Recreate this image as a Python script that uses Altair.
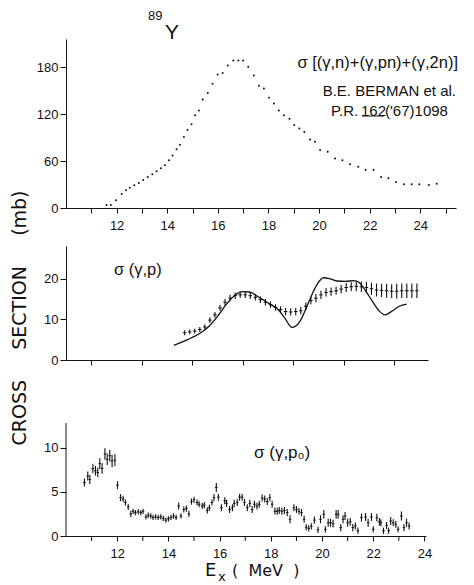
import altair as alt
import pandas as pd

FONT = "Liberation Sans"
WIDE = "DejaVu Sans"

# ---------------- top panel: sigma[(g,n)+(g,pn)+(g,2n)] (Berman et al.)
top_e = [11.6, 11.77, 11.97, 12.2, 12.37, 12.52, 12.7, 12.88, 13.05, 13.23,
         13.41, 13.58, 13.75, 13.91, 14.07, 14.21, 14.37, 14.5, 14.66, 14.8,
         14.96, 15.1, 15.25, 15.4, 15.6, 15.79, 15.99, 16.19, 16.39, 16.61,
         16.81, 17.0, 17.2, 17.42, 17.62, 17.82, 18.02, 18.22, 18.41, 18.61,
         18.83, 19.02, 19.22, 19.42, 19.64, 19.84, 20.04, 20.34, 20.63, 20.92,
         21.22, 21.55, 21.84, 22.15, 22.45, 22.74, 23.04, 23.36, 23.66, 23.96,
         24.34, 24.65]
top_v = [3.8, 3.8, 9.8, 18, 22.6, 26, 29, 32, 35.7, 39.6,
         43, 47, 50.7, 54.5, 61, 67, 75, 81, 90.6, 99.6,
         107, 118.7, 124.7, 138.8, 147, 158.7, 170.7, 172.7, 182, 188.5,
         188.5, 188.5, 180.4, 169.4, 156.3, 152.8, 140.8, 133.6, 124.7, 118.7,
         114, 106, 101.7, 97, 87.7, 84.6, 74, 71.9, 63.4, 60.9,
         55.8, 52.7, 48.5, 48.5, 39.6, 37.9, 33.2, 30.3, 30.3, 30.3,
         29.4, 31]

# ---------------- middle panel: sigma(g,p)
mid_line_e = [14.27, 14.81, 15.34, 15.67, 16.0, 16.34, 16.67, 17.0, 17.27, 17.6,
              18.0, 18.4, 18.67, 18.95, 19.27, 19.6, 19.94, 20.2, 20.47, 20.74,
              21.07, 21.4, 21.6, 21.8, 22.14, 22.4, 22.63, 22.94, 23.2, 23.5]
mid_line_v = [3.6, 5.0, 6.7, 8.3, 10.7, 13.6, 15.8, 16.8, 16.7, 15.6,
              14.0, 12.4, 10.3, 8.0, 9.5, 14.0, 18.5, 20.2, 19.9, 19.4,
              19.3, 19.5, 19.1, 17.6, 14.4, 12.1, 11.1, 12.1, 13.2, 13.7]
mid_pt_e = [14.7, 14.9, 15.1, 15.3, 15.5, 15.7, 15.9, 16.1, 16.3, 16.5,
            16.7, 16.9, 17.1, 17.3, 17.5, 17.7, 17.9, 18.1, 18.3, 18.5,
            18.7, 18.9, 19.1, 19.3, 19.5, 19.7, 19.9, 20.1, 20.3, 20.5,
            20.7, 20.9, 21.1, 21.3, 21.5, 21.7, 21.9, 22.1, 22.3, 22.5,
            22.7, 22.9, 23.1, 23.3, 23.5, 23.7, 23.9]
mid_pt_v = [6.7, 6.9, 7.1, 7.5, 8.1, 9.8, 11.1, 12.8, 14.2, 15.2,
            15.8, 16.0, 16.0, 15.8, 15.4, 14.8, 14.2, 13.6, 12.9, 12.4,
            11.9, 11.8, 11.9, 12.1, 13.2, 14.6, 15.2, 16.0, 16.6, 16.8,
            17.0, 17.4, 17.8, 18.0, 18.1, 18.0, 17.8, 17.5, 17.2, 17.1,
            17.0, 16.9, 16.9, 17.0, 17.0, 17.0, 17.0]
mid_pt_err = [0.6, 0.6, 0.6, 0.6, 0.6, 0.7, 0.7, 0.7, 0.8, 0.8,
              0.8, 0.8, 0.8, 0.8, 0.8, 0.8, 0.8, 0.8, 0.8, 0.8,
              0.9, 0.9, 0.9, 0.9, 0.9, 0.9, 1.0, 1.0, 1.0, 1.0,
              1.0, 1.0, 1.1, 1.1, 1.2, 1.3, 1.4, 1.5, 1.6, 1.6,
              1.7, 1.7, 1.8, 1.8, 1.8, 1.8, 1.8]

# ---------------- bottom panel: sigma(g,p0)
bot_e = [10.72, 10.85, 10.93, 11.05, 11.15, 11.24, 11.32, 11.41, 11.52, 11.61, 11.71, 11.80, 11.91,
         12.01, 12.13, 12.23, 12.32, 12.43, 12.53, 12.62, 12.71, 12.82, 12.92,
         13.01, 13.12, 13.21, 13.31, 13.40, 13.50, 13.60, 13.70, 13.80, 13.90,
         14.00, 14.10, 14.20, 14.30, 14.40, 14.49, 14.60, 14.70, 14.80, 14.90,
         15.00, 15.12, 15.20, 15.32, 15.40, 15.52, 15.60, 15.70, 15.78, 15.87, 15.95,
         16.07, 16.20, 16.27, 16.39, 16.50, 16.57, 16.69, 16.78, 16.88, 16.97,
         17.08, 17.18, 17.27, 17.36, 17.46, 17.55, 17.66, 17.76, 17.86, 17.96,
         18.05, 18.16, 18.25, 18.33, 18.43, 18.53, 18.64, 18.75, 18.90,
         19.00, 19.10, 19.20, 19.30, 19.38, 19.48, 19.58, 19.70, 19.84, 19.94,
         20.07, 20.13, 20.24, 20.33, 20.43, 20.55, 20.63, 20.73, 20.82, 20.90,
         21.00, 21.10, 21.20, 21.30, 21.40, 21.54, 21.70, 21.80, 21.93,
         22.00, 22.14, 22.24, 22.30, 22.40, 22.52, 22.60, 22.68, 22.78, 22.88, 22.97,
         23.10, 23.20, 23.30, 23.40]
bot_v = [6.06, 6.8, 6.4, 7.65, 7.4, 7.2, 8.2, 7.65, 9.3, 8.7, 9.1, 8.5, 8.6,
         5.76, 4.35, 4.2, 3.8, 3.3, 2.5, 2.8, 2.65, 2.75, 2.65,
         2.8, 2.16, 2.35, 2.27, 2.1, 2.16, 2.1, 2.16, 2.0, 1.8,
         1.95, 2.1, 2.27, 2.1, 3.4, 2.27, 3.0, 3.1, 2.5, 3.9,
         4.1, 3.8, 3.6, 3.4, 3.5, 2.9, 3.2, 3.8, 4.35, 5.5, 4.4,
         3.2, 4.0, 3.7, 3.0, 3.2, 3.7, 3.8, 4.4, 4.4, 3.8,
         3.2, 3.7, 3.0, 3.6, 3.4, 3.6, 4.3, 4.2, 3.9, 4.35,
         3.6, 2.8, 2.8, 2.9, 2.8, 2.9, 2.65, 1.9, 3.2,
         3.0, 2.8, 2.65, 1.9, 1.0, 0.87, 1.1, 1.8, 0.7, 1.9,
         2.46, 0.76, 1.5, 1.5, 1.4, 2.46, 2.46, 0.95, 1.9, 2.27,
         1.5, 1.6, 0.95, 1.14, 0.6, 2.08, 2.15, 1.5, 2.15,
         0.76, 2.08, 1.6, 1.5, 0.6, 1.2, 0.6, 1.7, 1.5, 1.33, 0.76,
         2.27, 0.95, 1.5, 1.14]
bot_err = [0.45, 0.5, 0.5, 0.55, 0.55, 0.55, 0.6, 0.6, 0.65, 0.65, 0.65, 0.7, 0.7,
           0.45, 0.4, 0.35, 0.35, 0.35, 0.35, 0.3, 0.3, 0.3, 0.3,
           0.3, 0.3, 0.3, 0.3, 0.3, 0.3, 0.3, 0.3, 0.3, 0.3,
           0.3, 0.3, 0.3, 0.3, 0.4, 0.3, 0.35, 0.35, 0.35, 0.35,
           0.35, 0.35, 0.35, 0.35, 0.35, 0.35, 0.35, 0.35, 0.4, 0.5, 0.4,
           0.4, 0.4, 0.4, 0.4, 0.4, 0.4, 0.4, 0.4, 0.4, 0.4,
           0.4, 0.4, 0.4, 0.4, 0.4, 0.4, 0.4, 0.4, 0.4, 0.4,
           0.4, 0.4, 0.4, 0.4, 0.4, 0.4, 0.4, 0.45, 0.4,
           0.4, 0.4, 0.4, 0.4, 0.35, 0.35, 0.35, 0.4, 0.35, 0.45,
           0.5, 0.35, 0.45, 0.45, 0.45, 0.5, 0.5, 0.4, 0.45, 0.45,
           0.45, 0.45, 0.4, 0.4, 0.35, 0.45, 0.45, 0.45, 0.45,
           0.35, 0.45, 0.45, 0.4, 0.35, 0.4, 0.35, 0.45, 0.4, 0.4, 0.35,
           0.5, 0.4, 0.45, 0.4]

top_y_ticks = [0, 60, 120, 180]
mid_y_ticks = [0, 10, 20]
bot_y_ticks = [0, 5, 10]
top_x_ticks = list(range(11, 26))
mid_x_ticks = list(range(11, 25))
bot_x_major = [12, 14, 16, 18, 20, 22, 24]
bot_x_minor = [11, 13, 15, 17, 19, 21, 23]
bot_y_top = 12.8   # top of the drawn y axis in the bottom panel

BLACK = "#111111"
LABEL_EXPR = "(datum.value % 2 == 0 && datum.value >= 12) ? datum.label : ''"


def xaxis(values):
    return alt.Axis(values=values, labelExpr=LABEL_EXPR, tickSize=5,
                    labelPadding=6, grid=False, labelFlush=False,
                    labelOverlap=False)


def yaxis(values, domain=True):
    return alt.Axis(values=values, tickSize=6, labelPadding=2, grid=False,
                    domain=domain, labelOverlap=False)


def txt(text, x, y, size=15, align="left", baseline="middle", angle=0,
        font=FONT):
    base = alt.Chart(pd.DataFrame({"t": [text]})).mark_text(
        align=align, baseline=baseline, fontSize=size, font=font,
        color=BLACK, angle=angle)
    return base.encode(x=alt.value(x), y=alt.value(y), text="t:N")


# ---------- top
top_df = pd.DataFrame({"e": top_e, "v": top_v})
top_x = alt.Scale(domain=[10, 25.41], nice=False, zero=False)
top_pts = alt.Chart(top_df).mark_circle(size=4, color=BLACK, opacity=1).encode(
    x=alt.X("e:Q", scale=top_x, axis=xaxis(top_x_ticks), title=None),
    y=alt.Y("v:Q", scale=alt.Scale(domain=[0, 216], nice=False),
            axis=yaxis(top_y_ticks), title=None),
)
anchor = alt.Chart(pd.DataFrame({"a": [0]})).mark_rule(
    color="white", strokeWidth=1).encode(
    x=alt.value(-65), x2=alt.value(-64), y=alt.value(-38))
underline = alt.Chart(pd.DataFrame({"a": [0]})).mark_rule(
    color=BLACK, strokeWidth=1).encode(
    x=alt.value(296), x2=alt.value(318), y=alt.value(77))
top = alt.layer(
    top_pts, anchor,
    txt("89", 82, -23, size=13),
    txt("Y", 99, 0, size=21, baseline="alphabetic"),
    txt("σ [(γ,n)+(γ,pn)+(γ,2n)]", 392, 24, size=16.5, align="right"),
    txt("B.E. BERMAN et al.", 390, 52, size=15, align="right"),
    txt("P.R.", 265, 72, size=15),
    txt("162", 295, 72, size=15),
    txt("('67)1098", 319, 72, size=15),
    underline,
).properties(width=390, height=169)

# ---------- middle
mid_x = alt.Scale(domain=[10, 24.34], nice=False, zero=False)
mid_y = alt.Scale(domain=[0, 28], nice=False)
mid_pts = pd.DataFrame({"e": mid_pt_e, "v": mid_pt_v, "err": mid_pt_err})
mid_pts["lo"] = mid_pts["v"] - mid_pts["err"]
mid_pts["hi"] = mid_pts["v"] + mid_pts["err"]
mid_pts["el"] = mid_pts["e"] - 0.07
mid_pts["er"] = mid_pts["e"] + 0.07
mid_vbars = alt.Chart(mid_pts).mark_rule(color=BLACK, strokeWidth=1.1).encode(
    x=alt.X("e:Q", scale=mid_x, axis=xaxis(mid_x_ticks), title=None),
    y=alt.Y("lo:Q", scale=mid_y, axis=yaxis(mid_y_ticks), title=None),
    y2="hi:Q",
)
mid_hbars = alt.Chart(mid_pts).mark_rule(color=BLACK, strokeWidth=1).encode(
    x="el:Q", x2="er:Q", y="v:Q")
mid_line = alt.Chart(pd.DataFrame({"e": mid_line_e, "v": mid_line_v})).mark_line(
    color=BLACK, strokeWidth=1.3, interpolate="monotone").encode(x="e:Q", y="v:Q")
ytitle = ("CROSS\u00a0\u00a0\u00a0\u00a0\u00a0SECTION"
          "\u00a0\u00a0\u00a0\u00a0\u00a0(mb)")
mid = alt.layer(
    mid_vbars, mid_hbars, mid_line,
    txt("σ (γ,p)", 48, 24, size=16.5),
    txt(ytitle, -46, 72, size=19, align="center", angle=270, font=WIDE),
).properties(width=362, height=114)

# ---------- bottom (taller group; y axis line drawn only up to bot_y_top)
bot_x = alt.Scale(domain=[10, 24.06], nice=False, zero=False)
bot_y = alt.Scale(domain=[0, 15.64], nice=False)
bot_df = pd.DataFrame({"e": bot_e, "v": bot_v, "err": bot_err})
bot_df["lo"] = bot_df["v"] - bot_df["err"]
bot_df["hi"] = bot_df["v"] + bot_df["err"]
bot_df["el"] = bot_df["e"] - 0.05
bot_df["er"] = bot_df["e"] + 0.05
bot_vbars = alt.Chart(bot_df).mark_rule(color=BLACK, strokeWidth=1.1).encode(
    x=alt.X("e:Q", scale=bot_x,
            axis=alt.Axis(values=bot_x_major, tickSize=5, labelPadding=6,
                          grid=False, labelFlush=False, labelOverlap=False,
                          format="d"),
            title=None),
    y=alt.Y("lo:Q", scale=bot_y, axis=yaxis(bot_y_ticks, domain=False),
            title=None),
    y2="hi:Q",
)
bot_hbars = alt.Chart(bot_df).mark_rule(color=BLACK, strokeWidth=1).encode(
    x="el:Q", x2="er:Q", y="v:Q")
bot_axisline = alt.Chart(pd.DataFrame({"x0": [10], "y0": [0], "y1": [bot_y_top]})
                         ).mark_rule(color=BLACK, strokeWidth=1).encode(
    x="x0:Q", y="y0:Q", y2="y1:Q")
bot_minor = alt.Chart(pd.DataFrame({"m": bot_x_minor})).mark_rule(
    color=BLACK, strokeWidth=1).encode(
    x="m:Q", y=alt.value(138), y2=alt.value(143))
bot = alt.layer(
    bot_vbars, bot_hbars, bot_axisline, bot_minor,
    txt("σ (γ,p₀)", 188, 55, size=17),
    txt("E", 139, 178, size=18, baseline="alphabetic", font=WIDE),
    txt("x", 152, 186, size=13, baseline="bottom", font=WIDE),
    txt("(\u00a0\u00a0MeV\u00a0\u00a0)", 166, 178, size=16,
        baseline="alphabetic", font=WIDE),
).properties(width=360, height=138)

chart = alt.vconcat(top, mid, bot, spacing=38, bounds="flush").properties(
    padding=0
).configure_view(strokeWidth=0).configure_axis(
    domainColor=BLACK, tickColor=BLACK, labelColor=BLACK, labelFont=FONT,
    labelFontSize=13, domainWidth=1, tickWidth=1
)

chart.save("out.html", embed_options={"renderer": "svg", "actions": False})
